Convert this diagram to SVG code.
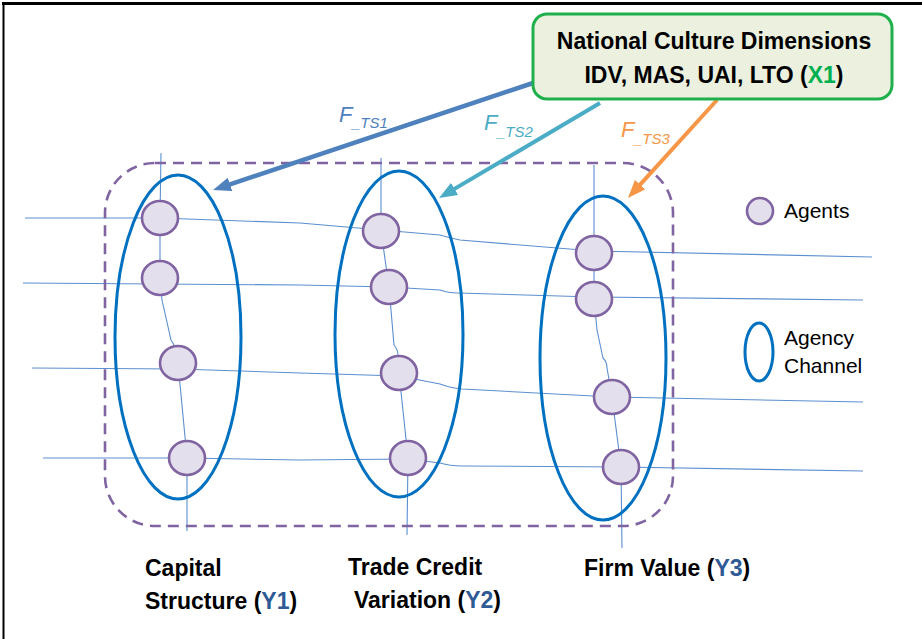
<svg xmlns="http://www.w3.org/2000/svg" width="922" height="639" viewBox="0 0 922 639">
<style>
.thin{fill:none;stroke:#5b8fd0;stroke-width:1.1}
.chan{fill:none;stroke:#0070c0;stroke-width:3}
.agent{fill:#e4dfec;stroke:#8064a2;stroke-width:2.6}
.lbl{font-family:"Liberation Sans",Arial,sans-serif;font-weight:bold;font-size:23px;fill:#000}
.leg{font-family:"Liberation Sans",Arial,sans-serif;font-size:21px;fill:#000}
.fl{font-family:"Liberation Sans",Arial,sans-serif;font-style:italic}
.yc{fill:#2e5a96}
</style>
<defs>
<marker id="a1" markerUnits="userSpaceOnUse" markerWidth="18" markerHeight="14" refX="4" refY="7" orient="auto"><path d="M0,0 L18,7 L0,14 z" fill="#4f81bd"/></marker>
<marker id="a2" markerUnits="userSpaceOnUse" markerWidth="18" markerHeight="14" refX="4" refY="7" orient="auto"><path d="M0,0 L18,7 L0,14 z" fill="#4bacc6"/></marker>
<marker id="a3" markerUnits="userSpaceOnUse" markerWidth="18" markerHeight="14" refX="4" refY="7" orient="auto"><path d="M0,0 L18,7 L0,14 z" fill="#f79646"/></marker>
</defs>
<rect width="922" height="639" fill="#fff"/>
<g id="frame">
<line x1="2" y1="3.5" x2="922" y2="3.5" stroke="#000" stroke-width="3"/>
<line x1="3.5" y1="2" x2="3.5" y2="639" stroke="#000" stroke-width="2"/>
</g>
<g id="links">
<path class="thin" d="M25,218 L160,218 L300,223 L381,230 L440,235 Q450,238 460,240 L594,251 L872,257"/>
<path class="thin" d="M23,283 L300,285 L389,287 L440,290 Q448,293 458,293 L594,297 L863,300"/>
<path class="thin" d="M32,368 L178,369 L300,373 L399,376 L440,384 Q450,388 462,389 L612,397 L863,402"/>
<path class="thin" d="M43,458 L187,458 L300,460 L408,459 L440,463 Q450,466 462,466 L621,467 L863,471"/>
<path class="thin" d="M161,153 L160,218 L160,278 L162,300 L171,340 Q175,346 176,350 L178,363 L187,458 L187,531"/>
<path class="thin" d="M381,158 L381,231 L389,287 L391,310 L394,345 Q398,350 398,355 L399,373 L408,458 L407,535"/>
<path class="thin" d="M594,165 L594,253 L594,299 L597,330 L603,358 Q607,362 607,368 L612,397 L621,467 L622,548"/>
</g>
<g id="channels">
<ellipse id="channel-y1" class="chan" cx="178" cy="337" rx="63" ry="162"/>
<ellipse id="channel-y2" class="chan" cx="399" cy="334" rx="64" ry="163"/>
<ellipse id="channel-y3" class="chan" cx="603" cy="358" rx="63" ry="162"/>
</g>
<rect id="system-boundary" x="105" y="163" width="568" height="363" rx="50" ry="50" fill="none" stroke="#8064a2" stroke-width="2.6" stroke-dasharray="11 7"/>
<g id="agents">
<g id="agent-1-1"><ellipse class="agent" cx="160" cy="218" rx="18" ry="17"/></g>
<g id="agent-1-2"><ellipse class="agent" cx="160" cy="278" rx="18" ry="17"/></g>
<g id="agent-1-3"><ellipse class="agent" cx="178" cy="363" rx="18" ry="17"/></g>
<g id="agent-1-4"><ellipse class="agent" cx="187" cy="458" rx="18" ry="17"/></g>
<g id="agent-2-1"><ellipse class="agent" cx="381" cy="231" rx="18" ry="17"/></g>
<g id="agent-2-2"><ellipse class="agent" cx="389" cy="287" rx="18" ry="17"/></g>
<g id="agent-2-3"><ellipse class="agent" cx="399" cy="373" rx="18" ry="17"/></g>
<g id="agent-2-4"><ellipse class="agent" cx="408" cy="458" rx="18" ry="17"/></g>
<g id="agent-3-1"><ellipse class="agent" cx="594" cy="253" rx="18" ry="17"/></g>
<g id="agent-3-2"><ellipse class="agent" cx="594" cy="299" rx="18" ry="17"/></g>
<g id="agent-3-3"><ellipse class="agent" cx="612" cy="397" rx="18" ry="17"/></g>
<g id="agent-3-4"><ellipse class="agent" cx="621" cy="467" rx="18" ry="17"/></g>
</g>
<g id="connectors">
<line x1="533" y1="83" x2="226.3" y2="185.6" stroke="#4f81bd" stroke-width="4.5" marker-end="url(#a1)"/>
<line x1="600" y1="103" x2="451.1" y2="190.9" stroke="#4bacc6" stroke-width="4" marker-end="url(#a2)"/>
<line x1="717" y1="100" x2="637.4" y2="187.6" stroke="#f79646" stroke-width="4" marker-end="url(#a3)"/>
</g>
<g id="arrow-labels">
<text class="fl" fill="#4f81bd"><tspan x="339" y="122" font-size="22">F</tspan><tspan x="352" y="128" font-size="15">_TS1</tspan></text>
<text class="fl" fill="#4bacc6"><tspan x="484" y="130" font-size="22">F</tspan><tspan x="497" y="137" font-size="15">_TS2</tspan></text>
<text class="fl" fill="#f79646"><tspan x="621" y="137" font-size="22">F</tspan><tspan x="634" y="144" font-size="15">_TS3</tspan></text>
</g>
<g id="culture-node">
<rect x="533" y="14" width="359" height="85" rx="14" ry="14" fill="#ebf1de" stroke="#1fb04c" stroke-width="3"/>
<text class="lbl" x="714" y="49" text-anchor="middle">National Culture Dimensions</text>
<text class="lbl" x="714" y="83" text-anchor="middle">IDV, MAS, UAI, LTO (<tspan fill="#00b050">X1</tspan>)</text>
</g>
<g id="legend-agents">
<ellipse class="agent" cx="760" cy="211" rx="13" ry="13"/>
<text class="leg" x="784" y="218">Agents</text>
</g>
<g id="legend-channel">
<ellipse class="chan" cx="759" cy="352" rx="14" ry="29" stroke-width="2.6"/>
<text class="leg" x="784" y="345">Agency</text>
<text class="leg" x="784" y="373">Channel</text>
</g>
<g id="label-y1">
<text class="lbl" x="145" y="576">Capital</text>
<text class="lbl" x="145" y="609">Structure (<tspan class="yc">Y1</tspan>)</text>
</g>
<g id="label-y2">
<text class="lbl" x="348" y="575">Trade Credit</text>
<text class="lbl" x="354" y="608">Variation (<tspan class="yc">Y2</tspan>)</text>
</g>
<g id="label-y3">
<text class="lbl" x="584" y="576">Firm Value (<tspan class="yc">Y3</tspan>)</text>
</g>
</svg>
